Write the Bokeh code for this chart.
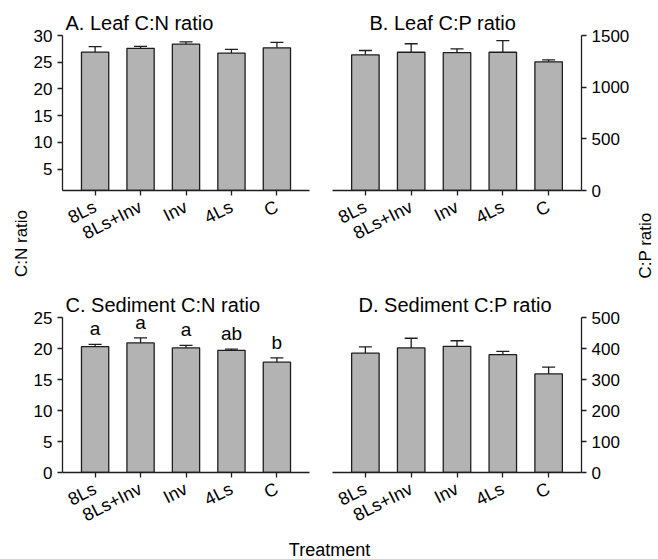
import math
from bokeh.plotting import figure
from bokeh.layouts import column, row
from bokeh.models import (ColumnDataSource, FactorRange, Range1d, FixedTicker,
                          Whisker, TeeHead, Label)
from bokeh.core.properties import value
from bokeh.embed import file_html
from bokeh.resources import INLINE

# ---- data ----
treatments = ["8Ls", "8Ls+Inv", "Inv", "4Ls", "C"]

leaf_cn = [26.9, 27.6, 28.4, 26.7, 27.7]
leaf_cn_err = [1.0, 0.35, 0.4, 0.7, 1.0]

leaf_cp = [1313, 1338, 1335, 1338, 1245]
leaf_cp_err = [42, 82, 36, 112, 20]

sed_cn = [20.3, 20.9, 20.1, 19.7, 17.8]
sed_cn_err = [0.35, 0.8, 0.4, 0.2, 0.7]
sed_cn_letters = ["a", "a", "a", "ab", "b"]

sed_cp = [385, 402, 407, 380, 318]
sed_cp_err = [20, 31, 18, 11, 22]

FONT = "Liberation Sans"
BAR_FILL = "#b3b3b3"
INK = "#1e1e1e"

LEFT_STRIP = 30
RIGHT_STRIP = 24
TOP_H = 288
BOT_H = 252
FOOT_H = 19


def panel(title, vals, errs, yr, ticks, right, width, height, b_top, b_bottom,
          b_left, b_right, title_offset, letters=None):
    src = ColumnDataSource(dict(cat=treatments, val=vals,
                                up=[v + e for v, e in zip(vals, errs)],
                                lo=vals))
    p = figure(width=width, height=height, output_backend="svg",
               toolbar_location=None,
               x_range=FactorRange(*treatments, range_padding=0.087),
               y_range=Range1d(*yr),
               y_axis_location="right" if right else "left",
               min_border_top=b_top, min_border_bottom=b_bottom,
               min_border_left=b_left, min_border_right=b_right,
               title=title)
    p.outline_line_color = None
    p.grid.visible = False
    p.background_fill_color = None
    p.border_fill_color = None

    w = Whisker(base="cat", upper="up", lower="lo", source=src,
                dimension="height", lower_head=None,
                upper_head=TeeHead(size=13, line_color=INK, line_width=1.3),
                line_color=INK, line_width=1.3)
    p.add_layout(w)
    p.vbar(x="cat", top="val", width=0.6, source=src, fill_color=BAR_FILL,
           line_color=INK, line_width=1.3)

    if letters is not None:
        lsrc = ColumnDataSource(dict(cat=treatments,
                                     y=[v + e for v, e in zip(vals, errs)],
                                     t=letters))
        p.text(x="cat", y="y", text="t", source=lsrc, text_align="center",
               text_baseline="bottom", y_offset=-5,
               text_font=value(FONT), text_font_size="19px", text_color="black")

    for ax in p.axis:
        ax.axis_line_color = INK
        ax.axis_line_width = 1.3
        ax.major_tick_line_color = INK
        ax.major_tick_line_width = 1.3
        ax.major_tick_out = 5
        ax.major_tick_in = 0
        ax.minor_tick_line_color = None
        ax.major_label_text_font = FONT
        ax.major_label_text_color = "black"
    p.yaxis.ticker = FixedTicker(ticks=ticks)
    p.yaxis.major_label_text_font_size = "17px"
    p.yaxis.major_label_standoff = 5
    p.xaxis.major_label_text_font_size = "18px"
    p.xaxis.major_label_orientation = 0.47
    p.xaxis.major_label_standoff = 10

    p.title.text_font = FONT
    p.title.text_font_size = "20px"
    p.title.text_font_style = "normal"
    p.title.text_color = "black"
    p.title.offset = title_offset
    p.title.standoff = 4
    return p


def blank(width, height):
    # blank figure whose data units equal canvas pixels (y measured downward)
    s = figure(width=width, height=height, output_backend="svg",
               toolbar_location=None, min_border=0, title=None,
               x_axis_location=None, y_axis_location=None,
               x_range=Range1d(0, width), y_range=Range1d(height, 0))
    s.grid.visible = False
    s.outline_line_color = None
    s.background_fill_color = None
    s.border_fill_color = None
    return s


wA = 328 - LEFT_STRIP
wB = 330 - RIGHT_STRIP

pA = panel("A. Leaf C:N ratio", leaf_cn, leaf_cn_err, (1, 30),
           [5, 10, 15, 20, 25, 30], False, wA, TOP_H, 35, TOP_H - 35 - 155,
           61 - LEFT_STRIP, 19, 3)
pB = panel("B. Leaf C:P ratio", leaf_cp, leaf_cp_err, (0, 1500),
           [0, 500, 1000, 1500], True, wB, TOP_H, 35, TOP_H - 35 - 155,
           4, wB - 4 - 249, 37)
pC = panel("C. Sediment C:N ratio", sed_cn, sed_cn_err, (0, 25),
           [0, 5, 10, 15, 20, 25], False, wA, BOT_H, 29, BOT_H - 29 - 155,
           61 - LEFT_STRIP, 19, 3, letters=sed_cn_letters)
pD = panel("D. Sediment C:P ratio", sed_cp, sed_cp_err, (0, 500),
           [0, 100, 200, 300, 400, 500], True, wB, BOT_H, 29, BOT_H - 29 - 155,
           4, wB - 4 - 249, 26)

body_h = TOP_H + BOT_H
label_style = dict(text_font=FONT, text_font_size="17px", text_color="black")

sL = blank(LEFT_STRIP, body_h)
sL.add_layout(Label(x=21, y=243, text="C:N ratio", angle=math.pi / 2,
                    text_align="center", text_baseline="middle", **label_style))
sR = blank(RIGHT_STRIP, body_h)
sR.add_layout(Label(x=645 - (658 - RIGHT_STRIP), y=245, text="C:P ratio",
                    angle=math.pi / 2, text_align="center",
                    text_baseline="middle", **label_style))

foot = blank(658, FOOT_H)
foot.add_layout(Label(x=329, y=FOOT_H / 2, text="Treatment",
                      text_align="center", text_baseline="middle",
                      text_font=FONT, text_font_size="18px",
                      text_color="black"))

grid = column(row(pA, pB, spacing=0), row(pC, pD, spacing=0), spacing=0)
layout = column(row(sL, grid, sR, spacing=0), foot, spacing=0)

open("out.html", "w").write(file_html(layout, INLINE))
